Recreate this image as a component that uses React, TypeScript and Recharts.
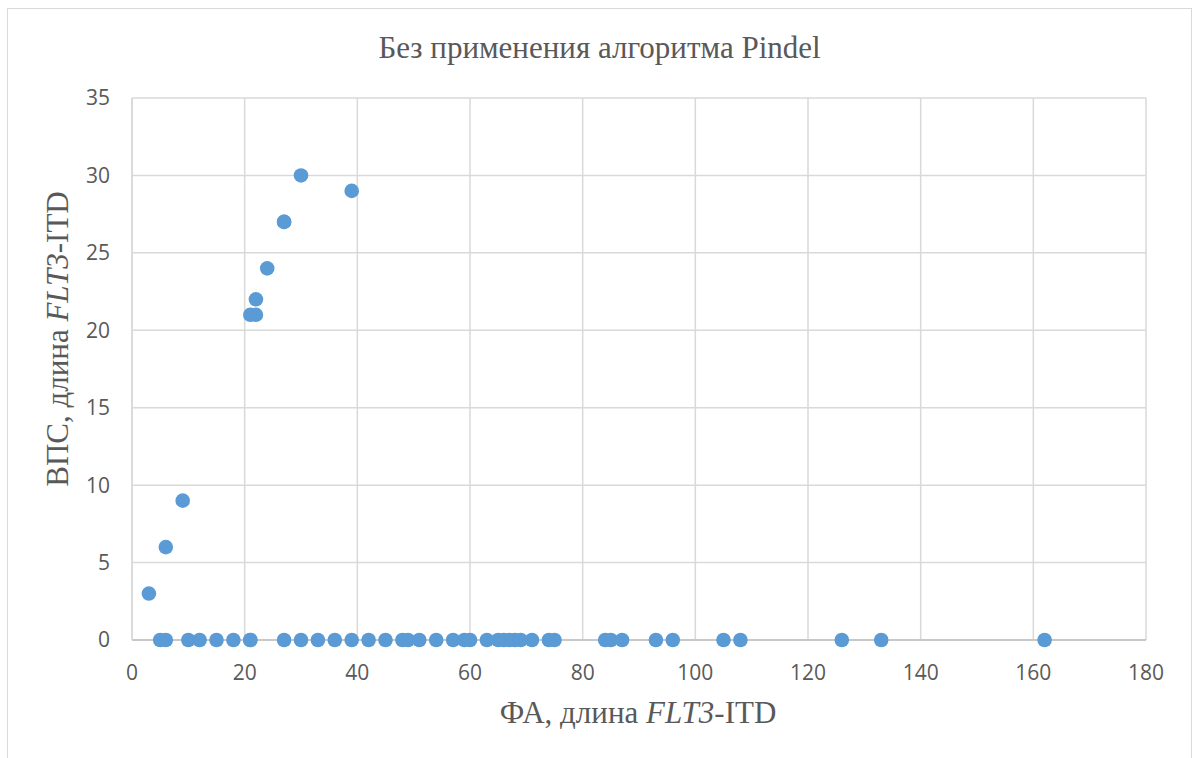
import { ScatterChart, Scatter, XAxis, YAxis, CartesianGrid } from "recharts";

// ФА length (x) and ВПС length (y) for each sample
const faLength = [
  3, 6, 9, 21, 22, 22, 24, 27, 27, 30, 39,
  5, 6, 10, 12, 15, 18, 21, 21, 27, 30, 33, 36, 39, 42, 45, 48, 49, 51, 54,
  57, 59, 60, 63, 65, 66, 67, 68, 69, 71, 74, 75, 84, 85, 87, 93, 96, 105,
  108, 126, 133, 162,
];
const vpsLength = [
  3, 6, 9, 21, 21, 22, 24, 27, 27, 30, 29,
  0, 0, 0, 0, 0, 0, 0, 0, 0, 0, 0, 0, 0, 0, 0, 0, 0, 0, 0,
  0, 0, 0, 0, 0, 0, 0, 0, 0, 0, 0, 0, 0, 0, 0, 0, 0, 0,
  0, 0, 0, 0,
];
const xTicks = [0, 20, 40, 60, 80, 100, 120, 140, 160, 180];
const yTicks = [0, 5, 10, 15, 20, 25, 30, 35];

const title = "Без применения алгоритма Pindel";

const points = faLength.map((x, i) => ({ x, y: vpsLength[i] }));

const textColor = "#595959";
const serif = "'Liberation Serif', 'Times New Roman', serif";
const tickStyle = { fill: textColor, fontSize: 21, fontFamily: "'Open Sans', sans-serif" };

const Dot = (props: any) => (
  <circle cx={props.cx} cy={props.cy} r={7.3} fill="#5b9bd5" />
);

export default function App() {
  return (
    <div
      style={{
        position: "absolute",
        left: 0,
        top: 0,
        width: 1199,
        height: 758,
        overflow: "hidden",
        background: "#fff",
      }}
    >
      <div
        style={{
          position: "absolute",
          left: 7,
          top: 8,
          width: 1183,
          height: 780,
          border: "1px solid #d9d9d9",
        }}
      />
      <ScatterChart
        width={1199}
        height={758}
        margin={{ top: 98, right: 53, bottom: 0, left: 0 }}
      >
        <CartesianGrid stroke="#d9d9d9" strokeWidth={1.5} />
        <XAxis
          type="number"
          dataKey="x"
          domain={[0, 180]}
          ticks={xTicks}
          height={118}
          tickLine={false}
          tickSize={0}
          tickMargin={25}
          axisLine={{ stroke: "#bfbfbf", strokeWidth: 1.5 }}
          tick={tickStyle}
        />
        <YAxis
          type="number"
          dataKey="y"
          domain={[0, 35]}
          ticks={yTicks}
          width={132}
          tickLine={false}
          tickSize={0}
          tickMargin={22}
          axisLine={{ stroke: "#d9d9d9", strokeWidth: 1.5 }}
          tick={tickStyle}
        />
        <Scatter data={points} shape={Dot} isAnimationActive={false} />
      </ScatterChart>
      <div
        style={{
          position: "absolute",
          left: 0,
          width: 1199,
          top: 29,
          textAlign: "center",
          fontFamily: serif,
          fontSize: 31,
          color: textColor,
          lineHeight: "38px",
        }}
      >
        {title}
      </div>
      <div
        style={{
          position: "absolute",
          left: 438,
          width: 400,
          top: 694,
          textAlign: "center",
          fontFamily: serif,
          fontSize: 31,
          color: textColor,
          lineHeight: "38px",
          whiteSpace: "nowrap",
        }}
      >
        ФА, длина <i>FLT3</i>-ITD
      </div>
      <div
        style={{
          position: "absolute",
          left: 58 - 200,
          width: 400,
          top: 339 - 19,
          textAlign: "center",
          fontFamily: serif,
          fontSize: 31,
          color: textColor,
          lineHeight: "38px",
          whiteSpace: "nowrap",
          transform: "rotate(-90deg)",
        }}
      >
        ВПС, длина <i>FLT3</i>-ITD
      </div>
    </div>
  );
}
